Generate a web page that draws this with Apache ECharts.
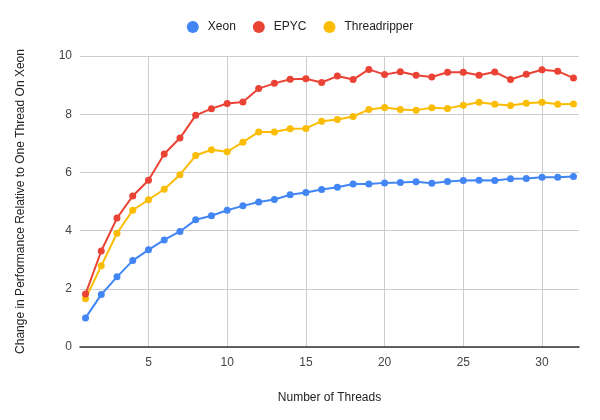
<!DOCTYPE html>
<html>
<head>
<meta charset="utf-8">
<script src="https://cdn.jsdelivr.net/npm/echarts@6/dist/echarts.min.js"></script>
<style>html,body{margin:0;padding:0;background:#fff}#c{width:600px;height:420px}</style>
</head>
<body>
<div id="c"></div>
<script>
var threads = [1,2,3,4,5,6,7,8,9,10,11,12,13,14,15,16,17,18,19,20,21,22,23,24,25,26,27,28,29,30,31,32];
var xeon = [1.00,1.80,2.41,2.97,3.34,3.68,3.97,4.37,4.51,4.70,4.85,4.98,5.07,5.23,5.31,5.41,5.49,5.60,5.60,5.64,5.65,5.68,5.63,5.69,5.72,5.73,5.72,5.78,5.79,5.83,5.83,5.86];
var epyc = [1.82,3.30,4.43,5.19,5.73,6.63,7.18,7.96,8.19,8.37,8.42,8.88,9.06,9.20,9.22,9.09,9.31,9.19,9.54,9.36,9.46,9.34,9.28,9.44,9.44,9.34,9.45,9.19,9.37,9.53,9.48,9.24];
var threadripper = [1.66,2.79,3.91,4.70,5.06,5.42,5.92,6.58,6.78,6.71,7.04,7.39,7.39,7.50,7.51,7.76,7.82,7.92,8.16,8.23,8.16,8.14,8.22,8.20,8.31,8.41,8.34,8.30,8.38,8.41,8.34,8.35];
var xTicks = [5,10,15,20,25,30];
var seriesNames = ['Xeon','EPYC','Threadripper'];
var colors = ['#4285F4','#EA4335','#FBBC04'];

function pairs(ys){ return threads.map(function(t,i){ return [t, ys[i]]; }); }
var allData = [xeon, epyc, threadripper];

var chart = echarts.init(document.getElementById('c'), null, {renderer:'canvas'});
var font = 'Liberation Sans, Arial, sans-serif';
chart.setOption({
  animation:false,
  backgroundColor:'#fff',
  textStyle:{fontFamily:font},
  legend:{
    top:16, left:'center',
    icon:'circle', itemWidth:12, itemHeight:12, itemGap:17,
    textStyle:{fontSize:12, color:'#222', fontFamily:font, padding:[0,0,0,4]},
    data:seriesNames
  },
  grid:{left:80, right:21, top:56, bottom:73, containLabel:false},
  xAxis:{
    type:'value', min:0.65, max:32.35,
    name:'Number of Threads', nameLocation:'middle', nameGap:45,
    nameTextStyle:{fontSize:12, color:'#222', fontFamily:font},
    axisLine:{show:true, lineStyle:{color:'#333', width:1.5}},
    axisTick:{show:false, customValues:xTicks},
    axisLabel:{customValues:xTicks, fontSize:12, color:'#444', margin:10, fontFamily:font},
    splitLine:{show:true, lineStyle:{color:'#ccc', width:1}}
  },
  yAxis:{
    type:'value', min:0, max:10, interval:2,
    name:'Change in Performance Relative to One Thread On Xeon', nameLocation:'middle', nameGap:53,
    nameTextStyle:{fontSize:12, color:'#222', fontFamily:font},
    axisLine:{show:false}, axisTick:{show:false},
    axisLabel:{fontSize:12, color:'#444', margin:8, fontFamily:font},
    splitLine:{show:true, lineStyle:{color:'#ccc', width:1}}
  },
  series: seriesNames.map(function(n,i){
    return {
      name:n, type:'line', data:pairs(allData[i]),
      symbol:'circle', symbolSize:7, showSymbol:true,
      itemStyle:{color:colors[i]},
      lineStyle:{color:colors[i], width:2},
      z: 3 + (i===0?2:(i===1?1:0))
    };
  })
});
</script>
</body>
</html>
